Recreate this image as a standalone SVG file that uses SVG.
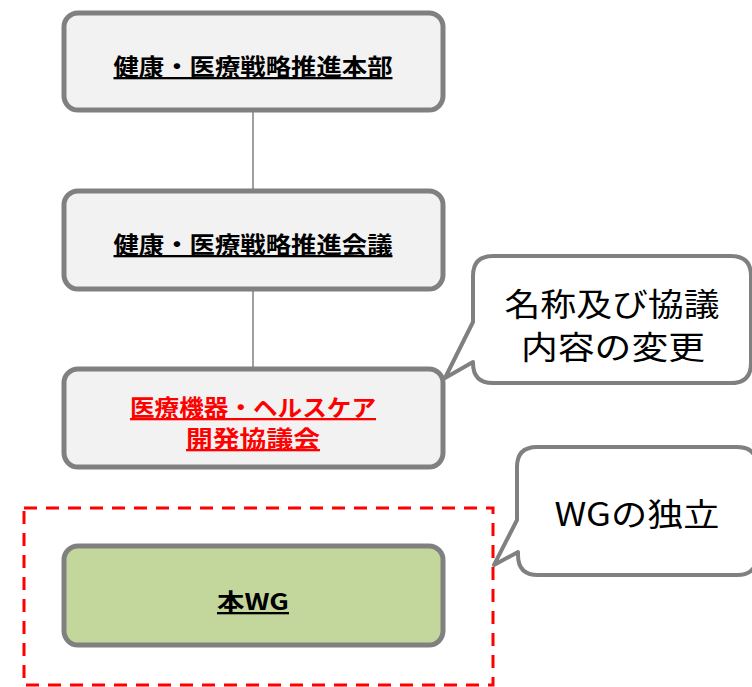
<svg xmlns="http://www.w3.org/2000/svg" width="752" height="687" viewBox="0 0 752 687">
<style>
.box{fill:#F2F2F2;stroke:#808080;stroke-width:5}
.wg{fill:#C3D69B;stroke:#808080;stroke-width:5}
.bt{font-family:"Noto Sans CJK JP","Noto Sans",sans-serif;font-weight:bold;font-size:23px;text-anchor:middle;text-decoration:underline}
.call{fill:#FFFFFF;stroke:#808080;stroke-width:4;stroke-linejoin:round}
.ct{font-family:"Noto Sans CJK JP","Noto Sans",sans-serif;font-size:32px;text-anchor:middle;fill:#000}
.conn{stroke:#808080;stroke-width:1.5;fill:none}
</style>
<rect width="752" height="687" fill="#FFFFFF"/>
<g id="connectors">
<line class="conn" x1="253" y1="110" x2="253" y2="191"/>
<line class="conn" x1="253" y1="289" x2="253" y2="369"/>
</g>
<g id="frame">
<rect x="24" y="508" width="469" height="177" fill="none" stroke="#FF0000" stroke-width="3" stroke-dasharray="13 9"/>
</g>
<g id="node1">
<rect class="box" x="64" y="13" width="379" height="97" rx="14"/>
<text class="bt" x="253" y="75" textLength="279" lengthAdjust="spacingAndGlyphs">健康・医療戦略推進本部</text>
</g>
<g id="node2">
<rect class="box" x="64" y="191" width="379" height="98" rx="14"/>
<text class="bt" x="253" y="253" textLength="279" lengthAdjust="spacingAndGlyphs">健康・医療戦略推進会議</text>
</g>
<g id="node3">
<rect class="box" x="64" y="369" width="379" height="98" rx="14"/>
<text class="bt" x="253" y="416" fill="#FF0000" textLength="246" lengthAdjust="spacingAndGlyphs">医療機器・ヘルスケア</text>
<text class="bt" x="253" y="447" fill="#FF0000" textLength="134" lengthAdjust="spacingAndGlyphs">開発協議会</text>
</g>
<g id="node4">
<rect class="wg" x="64" y="546" width="379" height="99" rx="14"/>
<text class="bt" x="253" y="610" textLength="72" lengthAdjust="spacingAndGlyphs">本WG</text>
</g>
<g id="callout1">
<path class="call" d="M493,256 H731 Q751,256 751,276 V363 Q751,383 731,383 H493 Q473,383 473,363 V362 L445,378 L473,322 V276 Q473,256 493,256 Z"/>
<text class="ct" x="612" y="316" textLength="215" lengthAdjust="spacingAndGlyphs">名称及び協議</text>
<text class="ct" x="613" y="359" textLength="184" lengthAdjust="spacingAndGlyphs">内容の変更</text>
</g>
<g id="callout2">
<path class="call" d="M537,447 H737 Q757,447 757,467 V555 Q757,575 737,575 H538 Q518,575 518,555 V552 L494,565 L517,520 V467 Q517,447 537,447 Z"/>
<text class="ct" x="637" y="526" textLength="165" lengthAdjust="spacingAndGlyphs">WGの独立</text>
</g>
</svg>
